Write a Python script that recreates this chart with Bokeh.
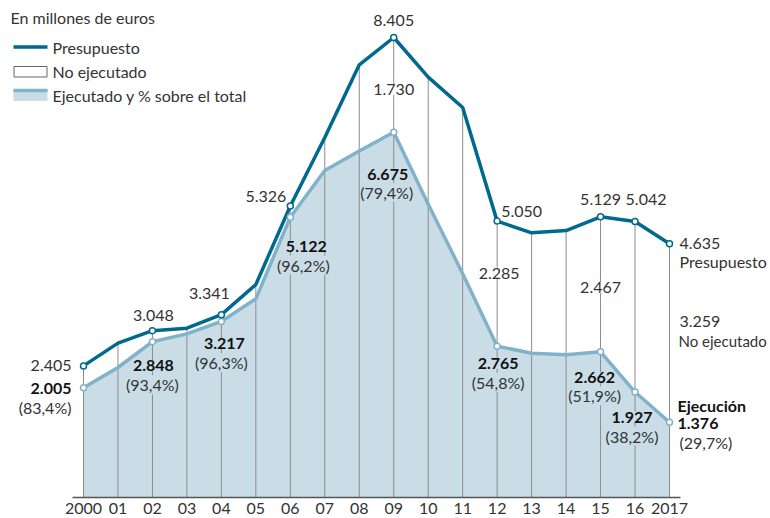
from bokeh.plotting import figure
from bokeh.models import Range1d, Label
from bokeh.embed import file_html
from bokeh.resources import INLINE

# ---------------- data ----------------
years = ["2000", "01", "02", "03", "04", "05", "06", "07", "08", "09",
         "10", "11", "12", "13", "14", "15", "16", "2017"]
presupuesto = [2405, 2820, 3048, 3094, 3341, 3892, 5326, 6578, 7906, 8405,
               7680, 7125, 5050, 4836, 4878, 5129, 5042, 4635]
ejecutado = [2005, 2375, 2848, 2990, 3217, 3630, 5122, 5975, 6330, 6675,
             5359, 4090, 2765, 2637, 2607, 2662, 1927, 1376]
labeled = [0, 2, 4, 6, 9, 12, 15, 16, 17]

# ---------------- style ----------------
PRES = "#006a8e"
EJEC = "#80b2c9"
AREA = "#cadde6"
VLINE = "#8c8c8c"
TXT = "#333333"
BOLD = "#111111"
FONT = "Lato"

W, H = 770, 518
S = 586 / 17          # px per year
U = 8405 / 460        # value per px
BASE = 497            # canvas y of zero
X0 = 83               # canvas x of first year

idx = list(range(len(years)))

p = figure(width=W, height=H, output_backend="svg", toolbar_location=None,
           x_range=Range1d(-X0 / S, (W - X0) / S),
           y_range=Range1d(-(H - BASE) * U, BASE * U),
           min_border=0)
p.axis.visible = False
p.grid.visible = False
p.outline_line_color = None
p.background_fill_color = "white"
p.border_fill_color = "white"

# area of executed budget
p.varea(x=idx, y1=[0] * len(idx), y2=ejecutado, fill_color=AREA)
# vertical guides
p.segment(x0=idx, y0=[0] * len(idx), x1=idx, y1=presupuesto,
          line_color=VLINE, line_width=1)
# baseline
p.segment(x0=[-0.32], y0=[0], x1=[len(idx) - 1 + 0.32], y1=[0],
          line_color="#555555", line_width=1.3)
# lines
p.line(idx, ejecutado, line_color=EJEC, line_width=3.5, line_join="round")
p.line(idx, presupuesto, line_color=PRES, line_width=3.5, line_join="round")
# markers
p.scatter([idx[i] for i in labeled], [ejecutado[i] for i in labeled], size=6,
          fill_color="white", line_color=EJEC, line_width=1.5)
p.scatter([idx[i] for i in labeled], [presupuesto[i] for i in labeled], size=6,
          fill_color="white", line_color=PRES, line_width=1.5)


def fmt(n):
    return f"{n:,}".replace(",", ".")


def pct(i):
    return "(" + f"{ejecutado[i] / presupuesto[i] * 100:.1f}".replace(".", ",") + "%)"


def lab(x, y, text, align="center", bold=False, bg=None, size="16px", color=TXT):
    p.add_layout(Label(x=x, y=y, text=text, text_align=align, text_baseline="middle",
                       text_font=FONT, text_font_size=size,
                       text_font_style="bold" if bold else "normal",
                       text_color=BOLD if bold else color,
                       background_fill_color=bg))


def at(i, series, dx, dy):
    v = presupuesto[i] if series == "p" else ejecutado[i]
    return i + dx / S, v - dy * U


# label layout: (index, series, dx px, dy px down, kind, align, bg)
layout = [
    (0, "p", -12, 0, "pres", "right", None),
    (0, "e", -12, 1, "ejec", "right", None),
    (0, "e", -12, 20, "pct", "right", None),
    (2, "p", 1, -15, "pres", "center", None),
    (2, "e", 1, 24, "ejec", "center", AREA),
    (2, "e", 0, 43, "pct", "center", AREA),
    (4, "p", -12, -21, "pres", "center", None),
    (4, "e", 3, 22, "ejec", "center", AREA),
    (4, "e", 0, 41, "pct", "center", AREA),
    (6, "p", -4, -10, "pres", "right", None),
    (6, "e", 16, 29, "ejec", "center", AREA),
    (6, "e", 13, 48, "pct", "center", AREA),
    (9, "p", 0, -17, "pres", "center", None),
    (9, "p", 0, 52, "noej", "center", "white"),
    (9, "e", -6, 42, "ejec", "center", AREA),
    (9, "e", -7, 60, "pct", "center", AREA),
    (12, "p", 4, -10, "pres", "left", None),
    (12, "p", 2, 52, "noej", "center", "white"),
    (12, "e", 1, 17, "ejec", "center", AREA),
    (12, "e", 1, 36, "pct", "center", AREA),
    (15, "p", 0, -17, "pres", "center", None),
    (15, "p", 0, 71, "noej", "center", "white"),
    (15, "e", -6, 26, "ejec", "center", AREA),
    (15, "e", -6, 44, "pct", "center", AREA),
    (16, "p", 11, -22, "pres", "center", None),
    (16, "e", -3, 25, "ejec", "center", AREA),
    (16, "e", -3, 44, "pct", "center", AREA),
    (17, "p", 10, 0, "pres", "left", None),
    (17, "p", 10, 78, "noej", "left", None),
    (17, "e", 8, 1, "ejec", "left", None),
    (17, "e", 10, 20, "pct", "left", None),
]
for i, s, dx, dy, kind, align, bg in layout:
    x, y = at(i, s, dx, dy)
    if kind == "pres":
        lab(x, y, fmt(presupuesto[i]), align, bg=bg)
    elif kind == "ejec":
        lab(x, y, fmt(ejecutado[i]), align, bold=True, bg=bg)
    elif kind == "pct":
        lab(x, y, pct(i), align, bg=bg)
    else:
        lab(x, y, fmt(presupuesto[i] - ejecutado[i]), align, bg=bg)

last = len(idx) - 1
x, y = at(last, "p", 10, 18)
lab(x, y, "Presupuesto", "left")
x, y = at(last, "p", 9, 97)
lab(x, y, "No ejecutado", "left", size="15px")
x, y = at(last, "e", 8, -17)
lab(x, y, "Ejecución", "left", bold=True)

# x tick labels
for i, t in enumerate(years):
    p.add_layout(Label(x=i, y=-5 * U, text=t, text_align="center", text_baseline="top",
                       text_font=FONT, text_font_size="16px", text_color=TXT))


# ---------------- legend (pixel layout) ----------------
def lx(px):
    return (px - X0) / S


def ly(py):
    return (BASE - py) * U


lab(lx(10), ly(17), "En millones de euros", "left", size="16px")
p.line([lx(13), lx(47)], [ly(46.5), ly(46.5)], line_color=PRES, line_width=3.5)
lab(lx(52), ly(46.5), "Presupuesto", "left", size="16px")
p.quad(left=[lx(13.5)], right=[lx(46.5)], top=[ly(66)], bottom=[ly(76.5)],
       fill_color="white", line_color="#666666", line_width=1)
lab(lx(52), ly(71), "No ejecutado", "left", size="16px")
p.quad(left=[lx(13)], right=[lx(47)], top=[ly(89)], bottom=[ly(100.5)],
       fill_color=AREA, line_color=None)
p.line([lx(13), lx(47)], [ly(90), ly(90)], line_color=EJEC, line_width=3.5)
lab(lx(52), ly(94.5), "Ejecutado y % sobre el total", "left", size="16px")

open("out.html", "w").write(file_html(p, INLINE))
